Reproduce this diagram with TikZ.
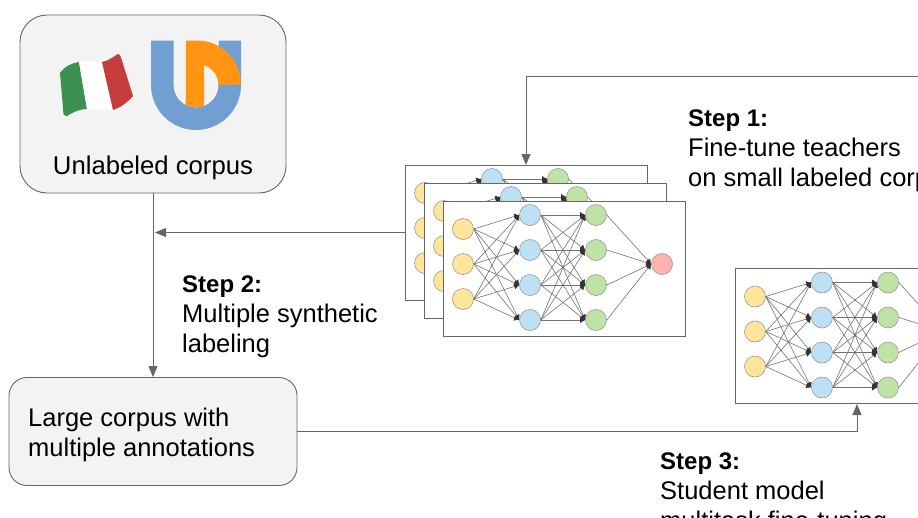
\documentclass[tikz,border=0pt]{standalone}
\usepackage{fontspec}
\setmainfont{Liberation Sans}
\usetikzlibrary{arrows.meta}

\definecolor{boxfill}{HTML}{F3F3F3}
\definecolor{boxline}{HTML}{666666}
\definecolor{inputcol}{HTML}{FFE599}
\definecolor{hiddencol}{HTML}{BDE0F5}
\definecolor{secondcol}{HTML}{BFE3A5}
\definecolor{outputcol}{HTML}{FFB3AE}
\definecolor{logoblue}{HTML}{729FD2}
\definecolor{logoorange}{HTML}{FF9512}
\definecolor{flaggreen}{HTML}{3B9150}
\definecolor{flagred}{HTML}{C43C3C}

% one network: prefix, left, top
\newcommand{\mlpnet}[3]{
  \begin{scope}[shift={(#2,#3)}]
    \node[netbox] (#1box) at (121,67.5) {};
    \foreach \i/\y in {1/28,2/63,3/98}
      \node[unit, fill=inputcol] (#1a\i) at (20,\y) {};
    \foreach \i/\y in {1/14,2/49,3/84,4/119} {
      \node[unit, fill=hiddencol] (#1b\i) at (87,\y) {};
      \node[unit, fill=secondcol] (#1c\i) at (153,\y) {};
    }
    \node[unit, fill=outputcol] (#1d) at (219,63) {};
    \foreach \i in {1,2,3}
      \foreach \j in {1,2,3,4}
        \draw[netedge] (#1a\i.east) -- (#1b\j.west);
    \foreach \i in {1,2,3,4}
      \foreach \j in {1,2,3,4}
        \draw[netedge] (#1b\i.east) -- (#1c\j.west);
    \foreach \i in {1,2,3,4}
      \draw[netedge] (#1c\i.east) -- (#1d.west);
  \end{scope}
}
\newcommand{\stepname}[1]{{\fontsize{24}{30}\selectfont\bfseries #1}}

\begin{document}
\begin{tikzpicture}[x=1pt,y=-1pt,
    netbox/.style={draw=boxline,fill=white,line width=.9pt,minimum width=242pt,minimum height=135pt,inner sep=0pt},
    unit/.style={circle,draw=black!40,line width=.6pt,minimum size=21pt,inner sep=0pt},
    netedge/.style={draw=black!55,line width=.6pt,-{Latex[length=5pt,width=6pt,black!80]}},
    flow/.style={draw=boxline,line width=.9pt,-{Triangle[length=11pt,width=9pt,boxline]}},
    corpus/.style={draw=boxline,fill=boxfill,line width=.9pt,inner sep=0pt},
    steptext/.style={anchor=north west,align=left,inner sep=0pt,font=\fontsize{25.5}{30}\selectfont}]

    \useasboundingbox (0,0) rectangle (918,517);

    \node[corpus, rounded corners=27pt, minimum width=266pt, minimum height=178pt] (unlabeled) at (153,104) {};
    \node[corpus, rounded corners=18pt, minimum width=288pt, minimum height=108pt] (large) at (153,431.5) {};

    % flag
    \fill[flaggreen] (60,73) .. controls (65,66) and (72,63) .. (79,62)
      -- (87,109) .. controls (80,109) and (73,112) .. (67,116) .. controls (65,116) and (64,115) .. (63.5,114) -- cycle;
    \fill[white] (79,62) .. controls (87,61) and (94,62) .. (102,62)
      -- (113,110) .. controls (104,110) and (96,109) .. (87,109) -- cycle;
    \fill[flagred] (102,62) .. controls (108,61) and (113,57) .. (118,54) .. controls (119,54) and (120,55) .. (120.5,56)
      -- (133,96) .. controls (128,102) and (120,108) .. (113,110) -- cycle;

    % logo
    \fill[logoblue] (151,40.5) -- (151,85) arc (180:0:45) -- (241,40.5) -- (218.5,40.5)
      -- (218.5,85) arc (0:180:22.5) -- (173.5,40.5) -- cycle;
    \fill[logoorange] (186,40.5) -- (197,40.5) arc (-90:0:44) -- (218.5,85)
      .. controls (218.5,75) and (212,68) .. (204,65) -- (204,106) arc (69:117:22.5) -- cycle;

    \node[anchor=base, inner sep=0pt, font=\fontsize{25.7}{30}\selectfont] (unlabeledtext) at (153,174) {Unlabeled corpus};
    \node[steptext] (largetext) at (28,408) {Large corpus with\\multiple annotations};

    \mlpnet{t}{405}{165}
    \mlpnet{u}{424}{183}
    \mlpnet{v}{443}{201}
    \mlpnet{s}{735}{268.5}

    \coordinate (feedin) at (925,76);
    \coordinate (labelin) at (155,232.5);
    \draw[flow] (feedin) -- (526,76) -- (526,165);
    \draw[flow] (unlabeled.south) -- (large.north);
    \draw[flow] (tbox.west |- labelin) -- (labelin);
    \draw[flow] (large.east) -| (857,404);

    \node[steptext] (stepone) at (688,110) {\stepname{Step 1:}\\Fine-tune teachers\\on small labeled corpus};
    \node[steptext] (steptwo) at (182,276) {\stepname{Step 2:}\\Multiple synthetic\\labeling};
    \node[steptext] (stepthree) at (660,453) {\stepname{Step 3:}\\Student model\\multitask fine-tuning};

\end{tikzpicture}
\end{document}
